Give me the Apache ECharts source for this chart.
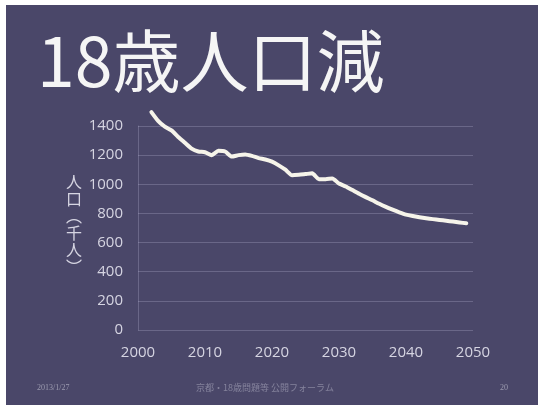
<!DOCTYPE html>
<html>
<head>
<meta charset="utf-8">
<script src="https://cdn.jsdelivr.net/npm/echarts@6/dist/echarts.min.js"></script>
<style>
  html, body { margin: 0; padding: 0; background: #ffffff; }
  #chart { width: 543px; height: 405px; }
</style>
</head>
<body>
<div id="chart"></div>
<script>
// 18-year-old population (thousands), actual and projected
const years = [
  2002, 2003, 2004, 2005, 2006, 2007, 2008, 2009, 2010, 2011,
  2012, 2013, 2014, 2015, 2016, 2017, 2018, 2019, 2020, 2021,
  2022, 2023, 2024, 2025, 2026, 2027, 2028, 2029, 2030, 2031,
  2032, 2033, 2034, 2035, 2036, 2037, 2038, 2039, 2040, 2041,
  2042, 2043, 2044, 2045, 2046, 2047, 2048, 2049
];
const population = [
  1495, 1435, 1395, 1370, 1325, 1285, 1245, 1225, 1220, 1200,
  1230, 1225, 1190, 1200, 1205, 1195, 1180, 1170, 1155, 1130,
  1100, 1062, 1065, 1070, 1075, 1035, 1035, 1040, 1005, 985,
  960, 935, 912, 890, 866, 845, 826, 808, 792, 782,
  774, 767, 761, 755, 750, 744, 738, 732
];
const yTicks = [0, 200, 400, 600, 800, 1000, 1200, 1400];
const xTicks = [2000, 2010, 2020, 2030, 2040, 2050];

const titleText = '18歳人口減';
const yAxisTitle = ['人', '口', '︵', '千', '人', '︶'];
const footerDate = '2013/1/27';
const footerCenter = '京都・18歳問題等 公開フォーラム';
const footerPage = '20';

const chart = echarts.init(document.getElementById('chart'), null, { renderer: 'canvas' });

const labelColor = '#d6d5e2';
const gridColor = 'rgba(190,188,220,0.28)';
const plainNumber = v => String(v);

chart.setOption({
  backgroundColor: '#ffffff',
  animation: false,
  graphic: [
    // slide panel
    { type: 'rect', left: 6, top: 5, shape: { width: 532, height: 400 },
      style: { fill: '#4a4769' }, z: -10, silent: true },
    { type: 'text', left: 37, top: 27,
      style: { text: titleText, fill: '#f5f5f5',
        font: '400 68px "Noto Sans CJK JP", sans-serif' } },
    { type: 'text', left: 66, top: 173,
      style: { text: yAxisTitle.join('\n'), fill: labelColor, lineHeight: 17,
        align: 'center', font: '16px "Noto Sans CJK JP", sans-serif' } },
    { type: 'text', left: 37, top: 384,
      style: { text: footerDate, fill: 'rgba(220,220,232,0.55)',
        font: '8px "Liberation Serif", serif' } },
    { type: 'text', left: 196, top: 383,
      style: { text: footerCenter, fill: 'rgba(220,220,232,0.4)',
        font: '9px "Noto Sans CJK JP", sans-serif' } },
    { type: 'text', left: 500, top: 384,
      style: { text: footerPage, fill: 'rgba(220,220,232,0.55)',
        font: '8px "Liberation Serif", serif' } }
  ],
  grid: { left: 138, right: 70, top: 126, bottom: 75, containLabel: false },
  xAxis: {
    type: 'value',
    min: xTicks[0],
    max: xTicks[xTicks.length - 1],
    interval: 10,
    axisLine: { show: false },
    axisTick: { show: false },
    splitLine: { show: false },
    axisLabel: { color: labelColor, fontSize: 15, margin: 15, formatter: plainNumber,
      fontFamily: '"Open Sans", "DejaVu Sans", sans-serif' }
  },
  yAxis: {
    type: 'value',
    min: yTicks[0],
    max: yTicks[yTicks.length - 1],
    interval: 200,
    axisLine: { show: true, lineStyle: { color: gridColor, width: 1 } },
    axisTick: { show: false },
    splitLine: { show: true, lineStyle: { color: gridColor, width: 1 } },
    axisLabel: { color: labelColor, fontSize: 15, margin: 15, formatter: plainNumber,
      fontFamily: '"Open Sans", "DejaVu Sans", sans-serif' }
  },
  series: [{
    type: 'line',
    data: years.map((y, i) => [y, population[i]]),
    showSymbol: false,
    clip: false,
    smooth: 0.2,
    lineStyle: { color: '#f6f4ea', width: 4, cap: 'round', join: 'round' }
  }]
});
</script>
</body>
</html>
